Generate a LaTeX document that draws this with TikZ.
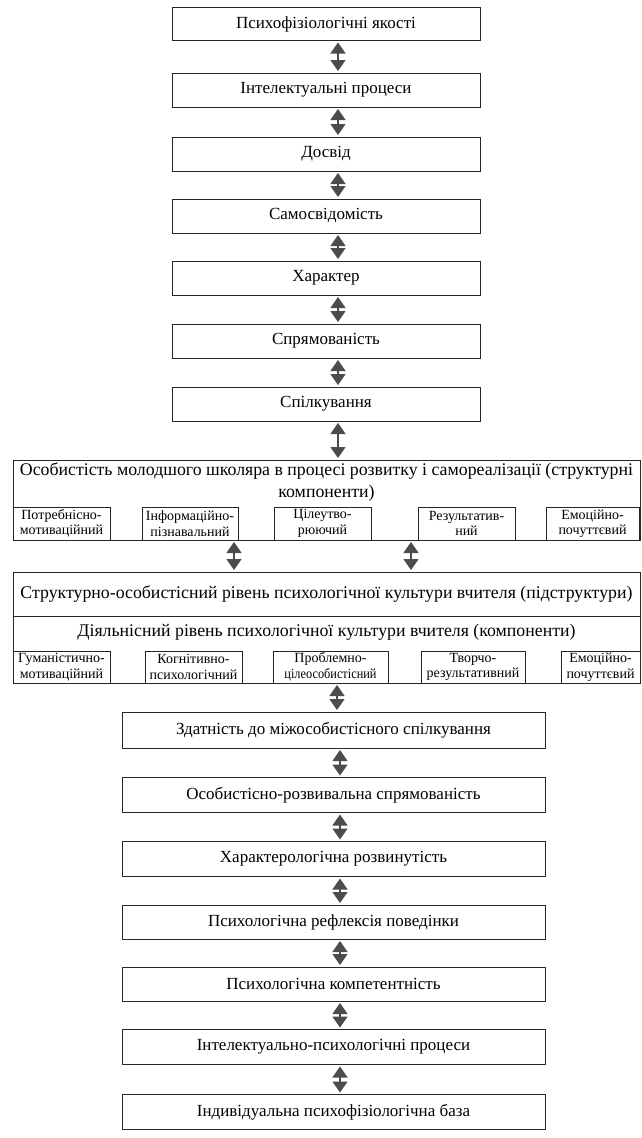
\documentclass[tikz,border=0pt]{standalone}
\usepackage{fontspec}
\setmainfont{Liberation Serif}
\newfontfamily\condserif[FakeStretch=0.88]{Liberation Serif}
\usetikzlibrary{arrows.meta}
\begin{document}
\begin{tikzpicture}[x=1pt,y=-1pt,
  box/.style={draw=black!85, line width=0.8pt, inner sep=0pt, outer sep=0pt, font=\fontsize{17}{19}\selectfont},
  widetxt/.style={font=\fontsize{17.8}{21.5}\selectfont},
  subtxt/.style={font=\fontsize{14}{15.5}\selectfont, align=center},
  dbl/.style={draw=black!70, fill=black!70, line width=1.3pt, shorten >=2pt, shorten <=2pt,
     {Triangle[length=11pt,width=15pt]}-{Triangle[length=11pt,width=15pt]}}]
\useasboundingbox[fill=white] (0,0) rectangle (642,1138);
% top boxes
\node[box, minimum width=308pt, minimum height=33pt] (t1) at (326,24) {Психофізіологічні якості};
\node[box, minimum width=308pt, minimum height=34pt] (t2) at (326,90) {Інтелектуальні процеси};
\node[box, minimum width=308pt, minimum height=34pt] (t3) at (326,154) {Досвід};
\node[box, minimum width=308pt, minimum height=34pt] (t4) at (326,216) {Самосвідомість};
\node[box, minimum width=308pt, minimum height=34pt] (t5) at (326,278) {Характер};
\node[box, minimum width=308pt, minimum height=34pt] (t6) at (326,341) {Спрямованість};
\node[box, minimum width=308pt, minimum height=34pt] (t7) at (326,404) {Спілкування};
% big box A
\node[box, minimum width=627pt, minimum height=80pt] (A) at (326.5,500) {};
\node[inner sep=0pt, align=center, widetxt, anchor=north] (Atxt) at (326.5,463)
  {Особистість молодшого школяра в процесі розвитку і самореалізації (структурні\\компоненти)};
\node[box, subtxt, minimum width=97pt, minimum height=33pt] (a1) at (61.5,523.5) {Потребнісно-\\мотиваційний};
\node[box, subtxt, minimum width=96pt, minimum height=33pt] (a2) at (190,523.5) {Інформаційно-\\пізнавальний};
\node[box, subtxt, minimum width=97pt, minimum height=33pt] (a3) at (322.5,523.5) {Цілеутво-\\рюючий};
\node[box, subtxt, minimum width=97pt, minimum height=33pt] (a4) at (466.5,523.5) {Результатив-\\ний};
\node[box, subtxt, minimum width=93pt, minimum height=33pt] (a5) at (592.5,523.5) {Емоційно-\\почуттєвий};
% box B
\node[box, widetxt, minimum width=627pt, minimum height=44pt] (B) at (326.5,594) {Структурно-особистісний рівень психологічної культури вчителя (підструктури)};
% box C
\node[box, minimum width=627pt, minimum height=67pt] (C) at (326.5,649.5) {};
\node[inner sep=0pt, widetxt, anchor=center] (Ctxt) at (326.5,632) {Діяльнісний рівень психологічної культури вчителя (компоненти)};
\node[box, subtxt, minimum width=97pt, minimum height=32pt] (c1) at (61.5,667) {Гуманістично-\\мотиваційний};
\node[box, subtxt, minimum width=97pt, minimum height=32pt] (c2) at (193.5,667) {Когнітивно-\\психологічний};
\node[box, subtxt, minimum width=115pt, minimum height=32pt] (c3) at (330.5,667) {Проблемно-\\{\condserif цілеособистісний}};
\node[box, subtxt, minimum width=104pt, minimum height=32pt] (c4) at (473,667) {Творчо-\\результативний};
\node[box, subtxt, minimum width=79pt, minimum height=32pt] (c5) at (600.5,667) {Емоційно-\\почуттєвий};
% lower boxes
\node[box, minimum width=423pt, minimum height=36pt] (l1) at (333.5,730) {Здатність до міжособистісного спілкування};
\node[box, minimum width=423pt, minimum height=35pt] (l2) at (333.5,795) {Особистісно-розвивальна спрямованість};
\node[box, minimum width=423pt, minimum height=35pt] (l3) at (333.5,859) {Характерологічна розвинутість};
\node[box, minimum width=423pt, minimum height=34pt] (l4) at (333.5,922) {Психологічна рефлексія поведінки};
\node[box, minimum width=423pt, minimum height=34pt] (l5) at (333.5,984) {Психологічна компетентність};
\node[box, minimum width=423pt, minimum height=35pt] (l6) at (333.5,1047) {Інтелектуально-психологічні процеси};
\node[box, minimum width=423pt, minimum height=35pt] (l7) at (333.5,1112) {Індивідуальна психофізіологічна база};
% arrow columns
\coordinate (ax) at (338,0);
\coordinate (bx1) at (234,0);
\coordinate (bx2) at (411,0);
\coordinate (cx) at (337,0);
\coordinate (dx) at (340,0);
\draw[dbl] (t1.south -| ax) -- (t2.north -| ax);
\draw[dbl] (t2.south -| ax) -- (t3.north -| ax);
\draw[dbl] (t3.south -| ax) -- (t4.north -| ax);
\draw[dbl] (t4.south -| ax) -- (t5.north -| ax);
\draw[dbl] (t5.south -| ax) -- (t6.north -| ax);
\draw[dbl] (t6.south -| ax) -- (t7.north -| ax);
\draw[dbl] (t7.south -| ax) -- (A.north -| ax);
\draw[dbl] (A.south -| bx1) -- (B.north -| bx1);
\draw[dbl] (A.south -| bx2) -- (B.north -| bx2);
\draw[dbl] (C.south -| cx) -- (l1.north -| cx);
\draw[dbl] (l1.south -| dx) -- (l2.north -| dx);
\draw[dbl] (l2.south -| dx) -- (l3.north -| dx);
\draw[dbl] (l3.south -| dx) -- (l4.north -| dx);
\draw[dbl] (l4.south -| dx) -- (l5.north -| dx);
\draw[dbl] (l5.south -| dx) -- (l6.north -| dx);
\draw[dbl] (l6.south -| dx) -- (l7.north -| dx);
\end{tikzpicture}
\end{document}
